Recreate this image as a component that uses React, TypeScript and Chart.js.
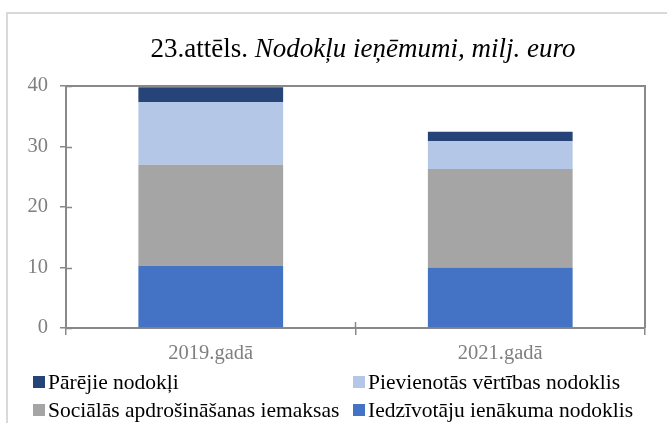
import React, { useEffect, useRef } from "react";
import { Chart, registerables } from "chart.js";

Chart.register(...registerables);

const categories = ["2019.gadā", "2021.gadā"];
const seriesNames = [
  "Iedzīvotāju ienākuma nodoklis",
  "Sociālās apdrošināšanas iemaksas",
  "Pievienotās vērtības nodoklis",
  "Pārējie nodokļi",
];
const iedzivotaju = [10.3, 10.0];
const socialas = [16.7, 16.3];
const pvn = [10.35, 4.6];
const parejie = [2.45, 1.55];
const seriesColors = ["#4472c4", "#a5a5a5", "#b4c7e7", "#264478"];
const yTicks = [0, 10, 20, 30, 40];
const titleRegular = "23.attēls. ";
const titleItalic = "Nodokļu ieņēmumi, milj. euro";
const legendOrder = [3, 2, 1, 0];

const FONT = "'Liberation Serif', 'Times New Roman', serif";
const AXIS = "#898989";

const decorPlugin = {
  id: "decor",
  beforeDraw(chart: any) {
    const ctx = chart.ctx;
    ctx.save();
    ctx.fillStyle = "#ffffff";
    ctx.fillRect(0, 0, chart.width, chart.height);
    ctx.strokeStyle = "#d9d9d9";
    ctx.lineWidth = 2;
    ctx.strokeRect(7, 13, chart.width + 20, chart.height + 20);
    ctx.restore();
  },
  afterDraw(chart: any) {
    const ctx = chart.ctx;
    const a = chart.chartArea;
    const xs = chart.scales.x;
    const ys = chart.scales.y;
    ctx.save();
    // top & right border of plot
    ctx.strokeStyle = AXIS;
    ctx.lineWidth = 2;
    ctx.beginPath();
    ctx.moveTo(a.left, a.top);
    ctx.lineTo(a.right, a.top);
    ctx.lineTo(a.right, a.bottom);
    ctx.stroke();
    // inner tick halves (cross ticks)
    ctx.lineWidth = 1.5;
    ctx.beginPath();
    for (const v of yTicks) {
      const py = Math.round(ys.getPixelForValue(v)) + 0.5;
      ctx.moveTo(a.left, py);
      ctx.lineTo(a.left + 6, py);
    }
    const mid = (xs.getPixelForValue(0) + xs.getPixelForValue(1)) / 2;
    ctx.moveTo(mid, a.bottom);
    ctx.lineTo(mid, a.bottom - 6);
    ctx.stroke();
    // title
    ctx.fillStyle = "#000000";
    ctx.textBaseline = "alphabetic";
    ctx.font = `27px ${FONT}`;
    const w1 = ctx.measureText(titleRegular).width;
    ctx.font = `italic 27px ${FONT}`;
    const w2 = ctx.measureText(titleItalic).width;
    const cx = 363;
    const x0 = cx - (w1 + w2) / 2;
    ctx.font = `27px ${FONT}`;
    ctx.fillText(titleRegular, x0, 57);
    ctx.font = `italic 27px ${FONT}`;
    ctx.fillText(titleItalic, x0 + w1, 57);
    // legend
    ctx.font = `21.5px ${FONT}`;
    ctx.textBaseline = "middle";
    const colX = [33, 353];
    const rowY = [382, 410];
    legendOrder.forEach((di, i) => {
      const ds = chart.data.datasets[di];
      const bx = colX[i % 2];
      const by = rowY[Math.floor(i / 2)];
      ctx.fillStyle = ds.backgroundColor;
      ctx.fillRect(bx, by - 6, 12, 12);
      ctx.fillStyle = "#000000";
      ctx.fillText(ds.label, bx + 15, by + 1);
    });
    ctx.restore();
  },
};

export default function App() {
  const ref = useRef<HTMLCanvasElement>(null);
  useEffect(() => {
    document.body.style.margin = "0";
    const seriesValues = [iedzivotaju, socialas, pvn, parejie];
    const chart = new Chart(ref.current!, {
      type: "bar",
      data: {
        labels: categories,
        datasets: seriesValues.map((vals, i) => ({
          label: seriesNames[i],
          data: vals,
          backgroundColor: seriesColors[i],
          borderWidth: 0,
          barPercentage: 0.5,
          categoryPercentage: 1,
        })),
      },
      options: {
        responsive: false,
        animation: false,
        layout: { padding: { top: 86, right: 22, bottom: 55, left: 0 } },
        plugins: {
          legend: { display: false },
          title: { display: false },
          tooltip: { enabled: false },
        },
        scales: {
          x: {
            stacked: true,
            grid: {
              display: true,
              drawOnChartArea: false,
              drawTicks: true,
              tickLength: 7,
              color: AXIS,
              lineWidth: 1.5,
              offset: true,
            },
            border: { display: true, color: AXIS, width: 2 },
            ticks: {
              color: "#7f7f7f",
              font: { family: FONT, size: 20.5 },
              padding: 6,
            },
            afterFit(scale: any) {
              scale.height = 40;
            },
          },
          y: {
            stacked: true,
            min: 0,
            max: 40,
            afterBuildTicks(scale: any) {
              scale.ticks = yTicks.map((v) => ({ value: v }));
            },
            grid: {
              display: true,
              drawOnChartArea: false,
              drawTicks: true,
              tickLength: 6,
              color: AXIS,
              lineWidth: 1.5,
            },
            border: { display: true, color: AXIS, width: 2 },
            ticks: {
              color: "#7f7f7f",
              font: { family: FONT, size: 20.5 },
              padding: 12,
            },
            afterFit(scale: any) {
              scale.width = 66;
            },
          },
        },
      },
      plugins: [decorPlugin],
    });
    return () => chart.destroy();
  }, []);
  return (
    <div style={{ width: 667, height: 423 }}>
      <canvas ref={ref} width={667} height={423} style={{ display: "block" }} />
    </div>
  );
}
